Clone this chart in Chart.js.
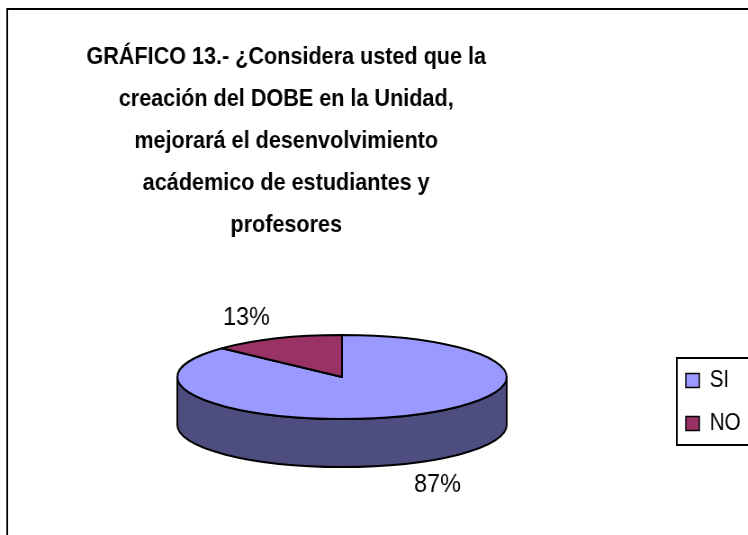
<!DOCTYPE html>
<html>
<head>
<meta charset="utf-8">
<script src="https://cdn.jsdelivr.net/npm/chart.js@4.4.1/dist/chart.umd.min.js"></script>
<style>
  html, body { margin: 0; padding: 0; background: #ffffff; overflow: hidden; }
  #wrap { width: 748px; height: 535px; overflow: hidden; }
  /* the sheet's chart is drawn slightly condensed horizontally */
  canvas { display: block; transform: scaleX(0.9); transform-origin: 0 0; }
</style>
</head>
<body>
<div id="wrap"><canvas id="chart" width="831" height="535"></canvas></div>
<script>
// Survey answers and their shares (percent)
const categories = ['SI', 'NO'];
const percentages = [87, 13];
const topColors = ['#9999FF', '#993366'];
const wallColors = ['#4D4D80', '#4D1A33'];
const titleLines = [
  'GRÁFICO 13.- ¿Considera usted que la',
  'creación del DOBE en la Unidad,',
  'mejorará el desenvolvimiento',
  'acádemico de estudiantes y',
  'profesores'
];

// Draws the pie as a tilted disc with a front wall, plus outside labels
// and the frames around the chart and the legend.
const tiltedPie = {
  id: 'tiltedPie',
  afterLayout(chart, args, o) {
    const a = chart.chartArea;
    const half = o.radius + 4;
    a.left = o.cx - half; a.right = o.cx + half;
    a.top = o.cy - half; a.bottom = o.cy + half;
    a.width = a.right - a.left; a.height = a.bottom - a.top;
    const lg = chart.legend;
    lg.left = o.legendX; lg.top = o.legendY;
    lg.right = lg.left + lg.width; lg.bottom = lg.top + 200;
  },
  beforeDraw(chart, args, o) {
    const ctx = chart.ctx;
    ctx.save();
    ctx.lineWidth = 2;
    ctx.strokeStyle = '#000';
    ctx.strokeRect(o.frame[0], o.frame[1], chart.width + 20, chart.height + 20);
    ctx.restore();
  },
  beforeDatasetsDraw(chart, args, o) {
    const ctx = chart.ctx;
    const meta = chart.getDatasetMeta(0);
    const ds = chart.data.datasets[0];
    const k = o.tilt, d = o.depth;
    ctx.save();
    ctx.lineWidth = o.lineWidth;
    ctx.strokeStyle = '#000';
    ctx.lineJoin = 'round';
    // front walls (only the half of the rim that faces the viewer)
    meta.data.forEach((arc, i) => {
      const p = arc.getProps(['x', 'y', 'startAngle', 'endAngle', 'outerRadius'], true);
      for (let off = -2 * Math.PI; off <= 2 * Math.PI; off += 2 * Math.PI) {
        const s = Math.max(p.startAngle, off);
        const e = Math.min(p.endAngle, off + Math.PI);
        if (e <= s) continue;
        ctx.beginPath();
        ctx.ellipse(p.x, p.y, p.outerRadius, p.outerRadius * k, 0, s, e);
        ctx.ellipse(p.x, p.y + d, p.outerRadius, p.outerRadius * k, 0, e, s, true);
        ctx.closePath();
        ctx.fillStyle = ds.wallColor[i];
        ctx.fill();
        ctx.stroke();
      }
    });
    // top faces
    meta.data.forEach((arc, i) => {
      const p = arc.getProps(['x', 'y', 'startAngle', 'endAngle', 'outerRadius'], true);
      ctx.beginPath();
      ctx.moveTo(p.x, p.y);
      ctx.ellipse(p.x, p.y, p.outerRadius, p.outerRadius * k, 0, p.startAngle, p.endAngle);
      ctx.closePath();
      ctx.fillStyle = arc.options.backgroundColor;
      ctx.fill();
      ctx.stroke();
    });
    ctx.restore();
    return false;
  },
  afterDraw(chart, args, o) {
    const ctx = chart.ctx;
    const meta = chart.getDatasetMeta(0);
    const values = chart.data.datasets[0].data;
    const total = values.reduce((s, v) => s + v, 0);
    ctx.save();
    ctx.fillStyle = '#000';
    ctx.font = o.labelFont;
    ctx.textAlign = 'center';
    ctx.textBaseline = 'middle';
    meta.data.forEach((arc, i) => {
      const p = arc.getProps(['x', 'y', 'startAngle', 'endAngle', 'outerRadius'], true);
      const mid = (p.startAngle + p.endAngle) / 2;
      const lx = p.x + Math.cos(mid) * p.outerRadius * o.labelRX;
      let ly = p.y + Math.sin(mid) * p.outerRadius * o.tilt * o.labelRY;
      if (Math.sin(mid) > 0) ly += o.depth;
      ctx.fillText(Math.round(values[i] / total * 100) + '%', lx, ly);
    });
    // legend frame
    const boxes = chart.legend.legendHitBoxes;
    if (boxes && boxes.length) {
      const first = boxes[0], last = boxes[boxes.length - 1];
      ctx.lineWidth = 2;
      ctx.strokeStyle = '#000';
      const x0 = first.left - 10;
      const y0 = first.top - 11;
      const y1 = last.top + last.height + 10;
      ctx.strokeRect(x0, y0, chart.width + 20 - x0, y1 - y0);
    }
    ctx.restore();
  }
};

Chart.defaults.font.family = "'Liberation Sans', Arial, sans-serif";
Chart.defaults.color = '#000000';

new Chart(document.getElementById('chart'), {
  type: 'pie',
  data: {
    labels: categories,
    datasets: [{
      data: percentages,
      backgroundColor: topColors,
      wallColor: wallColors,
      borderColor: '#000000',
      borderWidth: 1.5,
      radius: 183,
      clip: false
    }]
  },
  options: {
    responsive: false,
    animation: false,
    devicePixelRatio: 1,
    events: [],
    layout: { padding: { top: 10, left: 10, right: 205, bottom: 10 } },
    plugins: {
      title: {
        display: true,
        text: titleLines,
        font: { size: 24, weight: 'bold', lineHeight: '42px' },
        padding: { top: 26.5, bottom: 0 }
      },
      legend: {
        position: 'right',
        align: 'start',
        labels: {
          boxWidth: 15,
          boxHeight: 14,
          padding: 20,
          font: { size: 23 }
        }
      },
      tooltip: { enabled: false },
      tiltedPie: {
        cx: 380, cy: 377, radius: 183,
        tilt: 42 / 183, depth: 48, lineWidth: 2,
        legendX: 742, legendY: 349,
        frame: [8, 9],
        labelFont: "26px 'Liberation Sans', Arial, sans-serif",
        labelRX: 1.46, labelRY: 1.54
      }
    }
  },
  plugins: [tiltedPie]
});
</script>
</body>
</html>
